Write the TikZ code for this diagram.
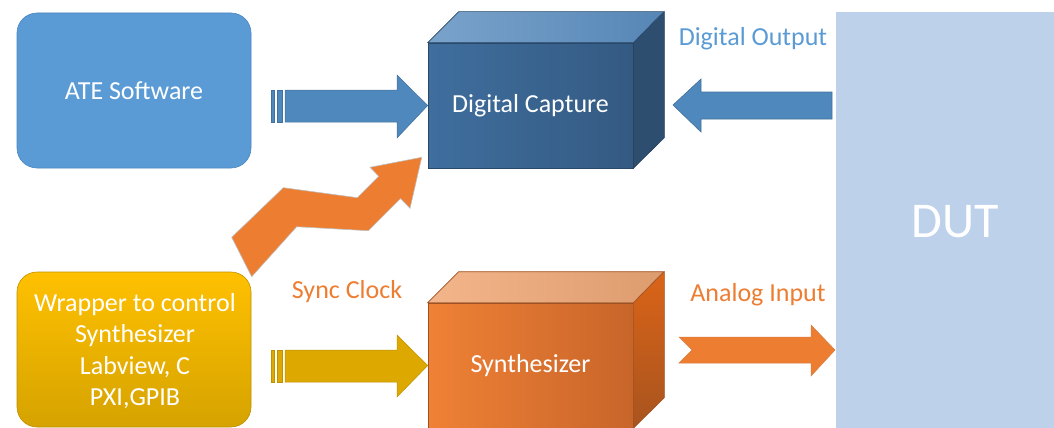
\documentclass[tikz,border=0pt]{standalone}
\usepackage{fontspec}
\setmainfont{Carlito}
\definecolor{ateblue}{HTML}{5B9BD5}
\definecolor{ateedge}{HTML}{4A86C2}
\definecolor{arrblue}{HTML}{4F88BC}
\definecolor{arrblueedge}{HTML}{41719C}
\definecolor{dcfrontA}{HTML}{3F6E9E}
\definecolor{dcfrontB}{HTML}{345A82}
\definecolor{dctopA}{HTML}{7AA3CB}
\definecolor{dctopB}{HTML}{5686B6}
\definecolor{dcright}{HTML}{2E4E70}
\definecolor{orange}{HTML}{ED7D31}
\definecolor{syfrontA}{HTML}{EF8135}
\definecolor{syfrontB}{HTML}{C8652A}
\definecolor{sytopA}{HTML}{F3B58A}
\definecolor{sytopB}{HTML}{DD9C6E}
\definecolor{syrightA}{HTML}{DA6418}
\definecolor{syrightB}{HTML}{A8541F}
\definecolor{gold}{HTML}{DDA900}
\definecolor{goldedge}{HTML}{BF9000}
\definecolor{wrapA}{HTML}{FFC000}
\definecolor{wrapB}{HTML}{D5A300}
\definecolor{dut}{HTML}{BDD1EA}
\tikzset{
  txt/.style={text=white, font=\fontsize{26}{31.5}\selectfont, align=center},
  lbl/.style={font=\fontsize{26}{30}\selectfont},
  box/.style={rounded corners=20pt, minimum width=234pt, inner sep=0pt, line width=0.6pt},
  face/.style={line width=0.6pt},
}
\begin{document}
\begin{tikzpicture}[x=1pt,y=-1pt]
\clip (0,0) rectangle (1054,428);
\fill[white] (0,0) rectangle (1054,428);

% DUT
\fill[dut] (836,12) rectangle (1054,440);
\node[text=white, font=\fontsize{50}{56}\selectfont] (dut) at (955,222) {DUT};

% ATE Software
\node[box, minimum height=155pt, fill=ateblue, draw=ateedge, txt] (ate) at (134,90.5) {ATE Software};

% Wrapper
\node[box, minimum height=155pt, top color=wrapA, bottom color=wrapB, draw=goldedge] (wrap) at (134,349.5) {};
\node[txt] (wraptxt) at (135,351) {Wrapper to control\\Synthesizer\\Labview, C\\PXI,GPIB};

% Digital Capture cube
\node[minimum width=205pt, minimum height=125pt, inner sep=0pt, left color=dcfrontA, right color=dcfrontB, draw=dcfrontB!80!black, face] (dc) at (530.5,105.5) {};
\fill[dcright, draw=dcright!80!black, face] (dc.north east) -- ++(31,-31) -- ++(0,126) -- (dc.south east) -- cycle;
\shade[left color=dctopA, right color=dctopB, draw=dcfrontB!80!black, face] (dc.north west) -- ++(31,-31) -- ++(205,0) -- (dc.north east) -- cycle;
\node[txt] (dctxt) at (dc.center) {Digital Capture};

% Synthesizer cube
\node[minimum width=205pt, minimum height=125pt, inner sep=0pt, left color=syfrontA, right color=syfrontB, draw=syfrontB!80!black, face] (sy) at (530.5,365.5) {};
\shade[top color=syrightA, bottom color=syrightB, draw=syfrontB!80!black, face] (sy.north east) -- ++(31,-31) -- ++(0,126) -- (sy.south east) -- cycle;
\shade[left color=sytopA, right color=sytopB, draw=syfrontB!80!black, face] (sy.north west) -- ++(31,-31) -- ++(205,0) -- (sy.north east) -- cycle;
\node[txt] (sytxt) at (sy.center) {Synthesizer};

% Striped arrow ATE -> Digital Capture
\begin{scope}[fill=arrblue, draw=arrblueedge, line width=0.5pt]
\filldraw (271.5,90) rectangle (274.5,122);
\filldraw (277,90) rectangle (282.5,122);
\filldraw (285,90) -- (397,90) -- (397,75) -- (dc.west) -- (397,138) -- (397,122) -- (285,122) -- cycle;
\end{scope}

% Striped arrow Wrapper -> Synthesizer
\begin{scope}[fill=gold, draw=goldedge, line width=0.5pt]
\filldraw (271.5,350) rectangle (274.5,382);
\filldraw (277,350) rectangle (282.5,382);
\filldraw (285,350) -- (397,350) -- (397,335) -- (sy.west) -- (397,397) -- (397,382) -- (285,382) -- cycle;
\end{scope}

% DUT -> Digital Capture (left arrow)
\filldraw[fill=arrblue, draw=arrblueedge, line width=0.6pt]
  (673,105) -- (701,79) -- (701,92) -- (832,92) -- (832,119) -- (701,119) -- (701,132) -- cycle;

% Synthesizer -> DUT (notched arrow)
\filldraw[fill=orange, draw=orange!80!gray, line width=0.5pt]
  (679,337) -- (811,337) -- (811,325) -- (835,350) -- (811,376) -- (811,363) -- (679,363) -- (692,350) -- cycle;

% Zigzag arrow Wrapper -> Digital Capture
\filldraw[fill=orange, draw=gray!50, line width=0.6pt]
  (251.7,276.7) -- (296.7,226.7) -- (368.3,230.7) -- (400.5,198.5) -- (410,208.3)
  -- (421.7,157.3) -- (370,167.3) -- (378.7,176.3) -- (357.3,197.7) -- (283.3,187.7)
  -- (231.7,237.3) -- cycle;

% Labels
\node[lbl, text=ateblue] (dout) at (753,39) {Digital Output};
\node[lbl, text=orange] (sync) at (347,292) {Sync Clock};
\node[lbl, text=orange] (ain) at (758,295) {Analog Input};
\end{tikzpicture}
\end{document}
